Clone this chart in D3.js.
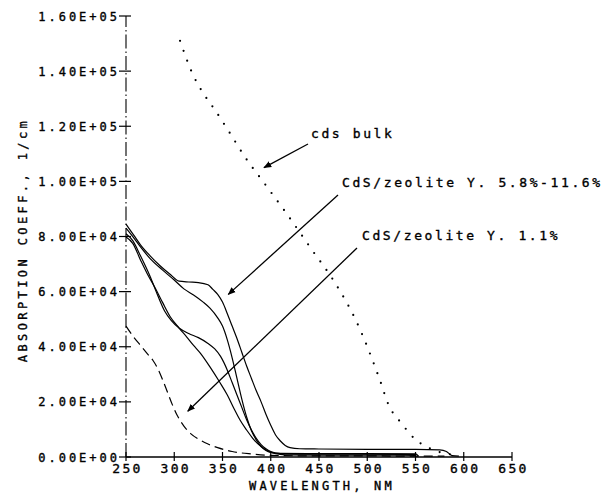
<!DOCTYPE html>
<html>
<head>
<meta charset="utf-8">
<script src="https://cdn.jsdelivr.net/npm/d3@7"></script>
<style>
  html, body { margin: 0; padding: 0; background: #fff; }
  svg { display: block; }
  text { font-family: "DejaVu Sans Mono", monospace; fill: #000; stroke: #000; stroke-width: 0.35px; }
</style>
</head>
<body>
<div id="chart"></div>
<script>
// wavelength (nm) / absorption coefficient (1e4 per cm)
const bulkNm   = [306, 319, 330, 342, 355, 373, 394, 415, 443, 466, 489, 513, 522, 536, 551, 560, 578, 594];
const bulkVal  = [15.1, 13.9, 13.2, 12.6, 11.9, 10.9, 9.9, 8.9, 7.5, 6.35, 4.9, 2.8, 1.9, 1.2, 0.6, 0.4, 0.15, 0.07];

const highNm   = [250, 258, 265, 275, 285, 295, 305, 315, 325, 335, 340, 345, 350, 355, 360, 365, 370, 375, 380, 385, 390, 395, 400, 405, 410, 415, 420, 430, 450, 500, 550, 575, 582, 588, 595];
const highVal  = [8.45, 8.05, 7.70, 7.30, 6.95, 6.65, 6.38, 6.35, 6.33, 6.25, 6.08, 5.90, 5.62, 5.20, 4.75, 4.30, 3.80, 3.30, 2.85, 2.40, 2.00, 1.55, 1.15, 0.80, 0.58, 0.42, 0.34, 0.30, 0.29, 0.28, 0.28, 0.26, 0.20, 0.05, 0.03];

const midNm    = [250, 258, 265, 275, 288, 300, 310, 320, 330, 337, 345, 350, 355, 360, 365, 370, 375, 380, 385, 390, 395, 400, 410, 450, 500, 550, 553];
const midVal   = [8.30, 7.95, 7.62, 7.20, 6.78, 6.42, 6.10, 5.88, 5.62, 5.40, 5.05, 4.75, 4.25, 3.60, 2.85, 2.10, 1.45, 0.95, 0.62, 0.38, 0.24, 0.17, 0.13, 0.12, 0.12, 0.11, 0.03];

const lowNm    = [250, 257, 265, 275, 283, 290, 297, 305, 315, 325, 335, 342, 348, 355, 360, 365, 370, 375, 380, 385, 390, 395, 400, 410, 450, 500, 550];
const lowVal   = [8.10, 7.85, 7.30, 6.55, 5.85, 5.30, 4.95, 4.68, 4.48, 4.33, 4.12, 3.92, 3.65, 3.15, 2.70, 2.25, 1.80, 1.35, 0.98, 0.68, 0.45, 0.30, 0.20, 0.12, 0.10, 0.10, 0.09];

const lowestNm  = [250, 257, 265, 272, 280, 288, 296, 305, 313, 320, 327, 337, 347, 355, 362, 368, 375, 382, 390, 398, 405, 415, 450, 500, 550];
const lowestVal = [7.98, 7.75, 7.15, 6.65, 6.15, 5.60, 5.08, 4.68, 4.35, 4.05, 3.77, 3.27, 2.72, 2.25, 1.75, 1.35, 0.98, 0.65, 0.38, 0.20, 0.12, 0.08, 0.07, 0.07, 0.06];

const oneNm    = [250, 258, 265, 272, 278, 283, 288, 293, 298, 304, 310, 317, 325, 335, 345, 360, 380, 400, 450, 500, 550, 580];
const oneVal   = [4.75, 4.35, 4.05, 3.75, 3.50, 3.20, 2.80, 2.35, 1.90, 1.45, 1.12, 0.85, 0.65, 0.47, 0.34, 0.20, 0.11, 0.06, 0.04, 0.04, 0.03, 0.03];

const xTicks = [250, 300, 350, 400, 450, 500, 550, 600, 650];
const yTicks = [0, 2, 4, 6, 8, 10, 12, 14, 16];
const yTickLabels = ['0.00E+00', '2.00E+04', '4.00E+04', '6.00E+04', '8.00E+04',
                     '1.00E+05', '1.20E+05', '1.40E+05', '1.60E+05'];

const width = 609, height = 494;
const x = d3.scaleLinear().domain([250, 650]).range([126, 512]);
const y = d3.scaleLinear().domain([0, 16]).range([457, 16]);

const svg = d3.select('#chart').append('svg')
  .attr('width', width)
  .attr('height', height)
  .attr('viewBox', `0 0 ${width} ${height}`);

const zip = (nm, v) => nm.map((d, i) => [d, v[i]]);
const line = d3.line().x(d => x(d[0])).y(d => y(d[1])).curve(d3.curveMonotoneX);

// axes (plotter style: ticks cross the axis line)
const yAxis = svg.append('g');
yAxis.append('line')
  .attr('x1', x(250)).attr('x2', x(250))
  .attr('y1', y(0)).attr('y2', y(16))
  .attr('stroke', '#000').attr('stroke-width', 1.1)
  .attr('stroke-dasharray', '14,3,1.5,3');
yAxis.selectAll('line.tick').data(yTicks).enter().append('line')
  .attr('class', 'tick')
  .attr('x1', x(250) - 7).attr('x2', x(250) + 5)
  .attr('y1', d => y(d)).attr('y2', d => y(d))
  .attr('stroke', '#000').attr('stroke-width', 1.2);
yAxis.selectAll('text').data(yTicks).enter().append('text')
  .attr('x', 120)
  .attr('y', d => y(d) + 4.5)
  .attr('text-anchor', 'end')
  .style('font-size', '12px')
  .style('letter-spacing', '3px')
  .text((d, i) => yTickLabels[i]);

const xAxis = svg.append('g');
xAxis.append('line')
  .attr('x1', x(250)).attr('x2', x(650))
  .attr('y1', y(0)).attr('y2', y(0))
  .attr('stroke', '#000').attr('stroke-width', 1.3);
xAxis.selectAll('line.tick').data(xTicks).enter().append('line')
  .attr('class', 'tick')
  .attr('x1', d => x(d)).attr('x2', d => x(d))
  .attr('y1', y(0) - 5).attr('y2', y(0) + 4)
  .attr('stroke', '#000').attr('stroke-width', 1.2);
xAxis.selectAll('text').data(xTicks).enter().append('text')
  .attr('x', d => x(d) + 1.5)
  .attr('y', 473)
  .attr('text-anchor', 'middle')
  .style('font-size', '13px')
  .style('letter-spacing', '2.3px')
  .text(d => d);

svg.append('text')
  .attr('x', 322).attr('y', 490)
  .attr('text-anchor', 'middle')
  .style('font-size', '12px')
  .style('letter-spacing', '3.2px')
  .text('WAVELENGTH, NM');

svg.append('text')
  .attr('transform', 'translate(27,240) rotate(-90)')
  .attr('text-anchor', 'middle')
  .style('font-size', '12px')
  .style('letter-spacing', '3.4px')
  .text('ABSORPTION COEFF., 1/cm');

// curves
const solid = [zip(highNm, highVal), zip(midNm, midVal), zip(lowNm, lowVal), zip(lowestNm, lowestVal)];
svg.selectAll('path.solid').data(solid).enter().append('path')
  .attr('class', 'solid')
  .attr('d', line)
  .attr('fill', 'none')
  .attr('stroke', '#000')
  .attr('stroke-width', 1.2);

svg.append('path')
  .datum(zip(oneNm, oneVal))
  .attr('d', line)
  .attr('fill', 'none')
  .attr('stroke', '#000')
  .attr('stroke-width', 1.2)
  .attr('stroke-dasharray', '9,5');

svg.append('path')
  .datum(zip(bulkNm, bulkVal))
  .attr('d', line)
  .attr('fill', 'none')
  .attr('stroke', '#000')
  .attr('stroke-width', 2.2)
  .attr('stroke-linecap', 'round')
  .attr('stroke-dasharray', '0,10.5');

// labels with arrows (arrow tail in px near label, head in data coords)
const notes = [
  { text: 'cds bulk', tx: 311, ty: 138, from: [308, 144], to: [393, 10.5] },
  { text: 'CdS/zeolite Y. 5.8%-11.6%', tx: 342, ty: 187, from: [338, 195], to: [356, 5.9] },
  { text: 'CdS/zeolite Y. 1.1%', tx: 362, ty: 240, from: [357, 248], to: [314, 1.66] }
];

svg.append('defs').append('marker')
  .attr('id', 'head')
  .attr('viewBox', '0 0 10 10')
  .attr('refX', 9).attr('refY', 5)
  .attr('markerWidth', 8).attr('markerHeight', 8)
  .attr('markerUnits', 'userSpaceOnUse')
  .attr('orient', 'auto')
  .append('path')
  .attr('d', 'M0,1 L10,5 L0,9 Z')
  .attr('fill', '#000');

svg.selectAll('line.arrow').data(notes).enter().append('line')
  .attr('class', 'arrow')
  .attr('x1', d => d.from[0]).attr('y1', d => d.from[1])
  .attr('x2', d => x(d.to[0])).attr('y2', d => y(d.to[1]))
  .attr('stroke', '#000')
  .attr('stroke-width', 1.3)
  .attr('marker-end', 'url(#head)');

svg.selectAll('text.note').data(notes).enter().append('text')
  .attr('class', 'note')
  .attr('x', d => d.tx).attr('y', d => d.ty)
  .style('font-size', '13px')
  .style('letter-spacing', '2.6px')
  .text(d => d.text);
</script>
</body>
</html>
